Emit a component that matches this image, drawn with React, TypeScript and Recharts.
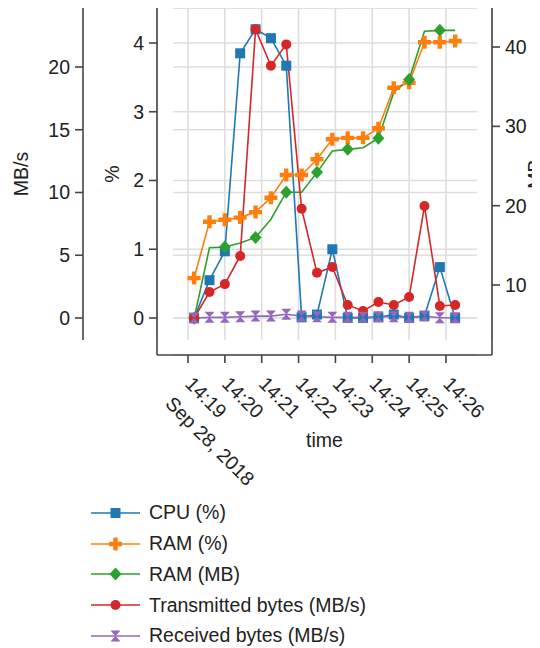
import React from "react";
import { LineChart, Line, XAxis, YAxis, CartesianGrid, Legend } from "recharts";

// sample times, one every 25 s
const times = [
  "14:19:10", "14:19:35", "14:20:00", "14:20:25", "14:20:50", "14:21:15",
  "14:21:40", "14:22:05", "14:22:30", "14:22:55", "14:23:20", "14:23:45",
  "14:24:10", "14:24:35", "14:25:00", "14:25:25", "14:25:50", "14:26:15",
];
const cpuPct = [0, 0.55, 0.97, 3.85, 4.2, 4.07, 3.67, 0.01, 0.05, 1.0, 0, 0, 0.01, 0.05, 0, 0.03, 0.74, 0];
const ramPct = [0.58, 1.4, 1.43, 1.46, 1.54, 1.75, 2.08, 2.08, 2.31, 2.6, 2.62, 2.62, 2.76, 3.35, 3.42, 4.01, 4.01, 4.03];
const ramMb = [5.8, 14.7, 14.8, 15.3, 16.0, 18.3, 21.7, 21.7, 24.2, 26.9, 27.1, 27.3, 28.5, 34.3, 35.9, 42.0, 42.1, 42.1];
const txMbs = [0, 2.07, 2.7, 4.94, 23.0, 20.1, 21.8, 8.7, 3.6, 4.06, 1.04, 0.56, 1.27, 1.04, 1.67, 8.92, 0.96, 1.04];
const rxMbs = [0, 0.05, 0.05, 0.1, 0.15, 0.15, 0.3, 0.15, 0.1, 0.05, 0.05, 0.05, 0.1, 0.1, 0.05, 0.15, 0.02, 0.02];

const timeTicks = ["14:19", "14:20", "14:21", "14:22", "14:23", "14:24", "14:25", "14:26"];
const dateLabel = "Sep 28, 2018";
const pctTicks = [0, 1, 2, 3, 4];
const mbsTicks = [0, 5, 10, 15, 20];
const mbTicks = [10, 20, 30, 40];

const toSec = (s: string) => {
  const [h, m, sec] = s.split(":").map(Number);
  return h * 3600 + m * 60 + (sec || 0);
};
const T0 = toSec(timeTicks[0]);

const data = times.map((t, i) => ({
  t: toSec(t) - T0,
  cpu: cpuPct[i],
  ramPct: ramPct[i],
  ramMb: ramMb[i],
  tx: txMbs[i],
  rx: rxMbs[i],
}));

const FONT = "'Liberation Sans', Arial, sans-serif";
const FS = 19.5;
const TEXT = "#222";
const SPINE = "#444";
const GRID = "#dedede";

const W = 532;
const H = 640;
const PCT_W = 74;
const MBS_W = 75;
const MB_W = 48;
const PLOT_BOTTOM = 347;
const XAXIS_H = 60;
const PAD_L = 16;
const PAD_R = 15;
const PAD_B = 15;

const C = {
  blue: "#1f77b4",
  orange: "#ff7f0e",
  green: "#2ca02c",
  red: "#d62728",
  purple: "#9467bd",
};

type M = (cx: number, cy: number, c: string, k?: any) => React.ReactElement;
const square: M = (cx, cy, c, k) => <rect key={k} x={cx - 5} y={cy - 5} width={10} height={10} fill={c} />;
const plus: M = (cx, cy, c, k) => (
  <path key={k} fill={c}
    d={`M${cx - 2.2},${cy - 6.5}h4.4v4.3h4.3v4.4h-4.3v4.3h-4.4v-4.3h-4.3v-4.4h4.3z`} />
);
const diamond: M = (cx, cy, c, k) => (
  <path key={k} fill={c} d={`M${cx},${cy - 6.5}L${cx + 6},${cy}L${cx},${cy + 6.5}L${cx - 6},${cy}Z`} />
);
const circle: M = (cx, cy, c, k) => <circle key={k} cx={cx} cy={cy} r={5} fill={c} />;
const hourglass: M = (cx, cy, c, k) => (
  <path key={k} fill={c} d={`M${cx - 5},${cy - 5.5}L${cx + 5},${cy - 5.5}L${cx - 5},${cy + 5.5}L${cx + 5},${cy + 5.5}Z`} />
);

const series = [
  { key: "cpu", name: "CPU (%)", axis: "a_pct", color: C.blue, marker: square, every: 1 },
  { key: "ramPct", name: "RAM (%)", axis: "a_pct", color: C.orange, marker: plus, every: 1 },
  { key: "ramMb", name: "RAM (MB)", axis: "c_mb", color: C.green, marker: diamond, every: 2 },
  { key: "tx", name: "Transmitted bytes (MB/s)", axis: "b_mbs", color: C.red, marker: circle, every: 1 },
  { key: "rx", name: "Received bytes (MB/s)", axis: "b_mbs", color: C.purple, marker: hourglass, every: 1 },
];

function TimeTick(props: any) {
  const { x, y, index } = props;
  return (
    <g transform={`translate(${x - 4},${y + 22})`}>
      <text transform="rotate(45)" fontSize={FS} fontFamily={FONT} fill={TEXT}>
        <tspan x={0} y={0}>{timeTicks[index]}</tspan>
        {index === 0 && <tspan x={0} dy={28}>{dateLabel}</tspan>}
      </text>
    </g>
  );
}

const axisLabel = (text: string, dx: number) => (p: any) => {
  const vb = p.viewBox;
  const x = vb.x + dx;
  const y = vb.y + (vb.height - PAD_B) / 2;
  return (
    <text x={x} y={y} transform={`rotate(-90, ${x}, ${y})`} textAnchor="middle"
      fontSize={FS} fontFamily={FONT} fill={TEXT}>
      {text}
    </text>
  );
};

const timeLabel = (p: any) => {
  const vb = p.viewBox;
  return (
    <text x={vb.x + vb.width / 2} y={vb.y + 92} textAnchor="middle" fontSize={FS} fontFamily={FONT} fill={TEXT}>
      time
    </text>
  );
};

const hLine = (p: any) => (
  <line key={`h-${p.index}-${p.y1}`} x1={p.x1 + PAD_L} x2={p.x2 - PAD_R} y1={p.y1} y2={p.y2} stroke={GRID} strokeWidth={1.6} />
);
const vLine = (p: any) => (
  <line key={`v-${p.index}-${p.x1}`} x1={p.x1} x2={p.x2} y1={p.y1} y2={p.y2 - PAD_B} stroke={GRID} strokeWidth={1.6} />
);

function MbsSpine() {
  const x = MBS_W;
  return <line x1={x} x2={x} y1={0} y2={PLOT_BOTTOM - PAD_B} stroke={SPINE} strokeWidth={1.6} />;
}

function LegendBox() {
  return (
    <div style={{ fontFamily: FONT, fontSize: FS, color: TEXT }}>
      {series.map((s) => (
        <div key={s.key} style={{ display: "flex", alignItems: "center", height: 30.75, whiteSpace: "nowrap" }}>
          <svg width={58} height={20} style={{ display: "block" }}>
            <line x1={0} y1={10} x2={49} y2={10} stroke={s.color} strokeWidth={1.6} />
            {s.marker(24.5, 10, s.color)}
          </svg>
          <span>{s.name}</span>
        </div>
      ))}
    </div>
  );
}

export default function App() {
  const tickStyle = { fontSize: FS, fontFamily: FONT, fill: TEXT };
  return (
    <LineChart width={W} height={H} data={data}
      margin={{ top: 0, right: 0, left: 0, bottom: H - PLOT_BOTTOM - XAXIS_H }}>
      <CartesianGrid yAxisId="a_pct" horizontal={hLine} vertical={vLine} />
      <CartesianGrid yAxisId="b_mbs" horizontal={hLine} vertical={false} />
      <XAxis
        dataKey="t" type="number" domain={[-24.4, 470.5]} allowDataOverflow
        ticks={timeTicks.map((s) => toSec(s) - T0)} interval={0}
        padding={{ left: PAD_L, right: PAD_R }} height={XAXIS_H}
        tickSize={8} tickMargin={0} tick={<TimeTick />}
        axisLine={{ stroke: SPINE, strokeWidth: 1.6 }} tickLine={{ stroke: SPINE, strokeWidth: 1.6 }}
        label={timeLabel}
      />
      <YAxis
        yAxisId="b_mbs" orientation="left" width={MBS_W} domain={[-1.753, 24.7]} allowDataOverflow
        ticks={mbsTicks} interval={0} padding={{ top: 0, bottom: PAD_B }}
        tickSize={8} tickMargin={5} tick={tickStyle}
        axisLine={false} tickLine={{ stroke: SPINE, strokeWidth: 1.6 }}
        label={axisLabel("MB/s", 19.7)}
      />
      <YAxis
        yAxisId="a_pct" orientation="left" width={PCT_W} domain={[-0.32, 4.509]} allowDataOverflow
        ticks={pctTicks} interval={0} padding={{ top: 0, bottom: PAD_B }}
        tickSize={8} tickMargin={5} tick={tickStyle}
        axisLine={{ stroke: SPINE, strokeWidth: 1.6 }} tickLine={{ stroke: SPINE, strokeWidth: 1.6 }}
        label={axisLabel("%", 35.7)}
      />
      <YAxis
        yAxisId="c_mb" orientation="right" width={MB_W} domain={[3.07, 44.92]} allowDataOverflow
        ticks={mbTicks} interval={0} padding={{ top: 0, bottom: PAD_B }}
        tickSize={8} tickMargin={5} tick={tickStyle}
        axisLine={{ stroke: SPINE, strokeWidth: 1.6 }} tickLine={{ stroke: SPINE, strokeWidth: 1.6 }}
        label={axisLabel("MB", 49.7)}
      />
      <MbsSpine />
      {series.map((s) => (
        <Line
          key={s.key} yAxisId={s.axis} dataKey={s.key} name={s.name} type="linear"
          stroke={s.color} strokeWidth={1.6} isAnimationActive={false} activeDot={false}
          dot={(p: any) =>
            p.index % s.every === 0 ? s.marker(p.cx, p.cy, s.color, `${s.key}-${p.index}`) : <g key={`${s.key}-${p.index}`} />
          }
        />
      ))}
      <Legend
        layout="vertical" align="center" verticalAlign="middle"
        wrapperStyle={{ left: 83, top: 489.6, width: 330 }}
        content={() => <LegendBox />}
      />
    </LineChart>
  );
}
